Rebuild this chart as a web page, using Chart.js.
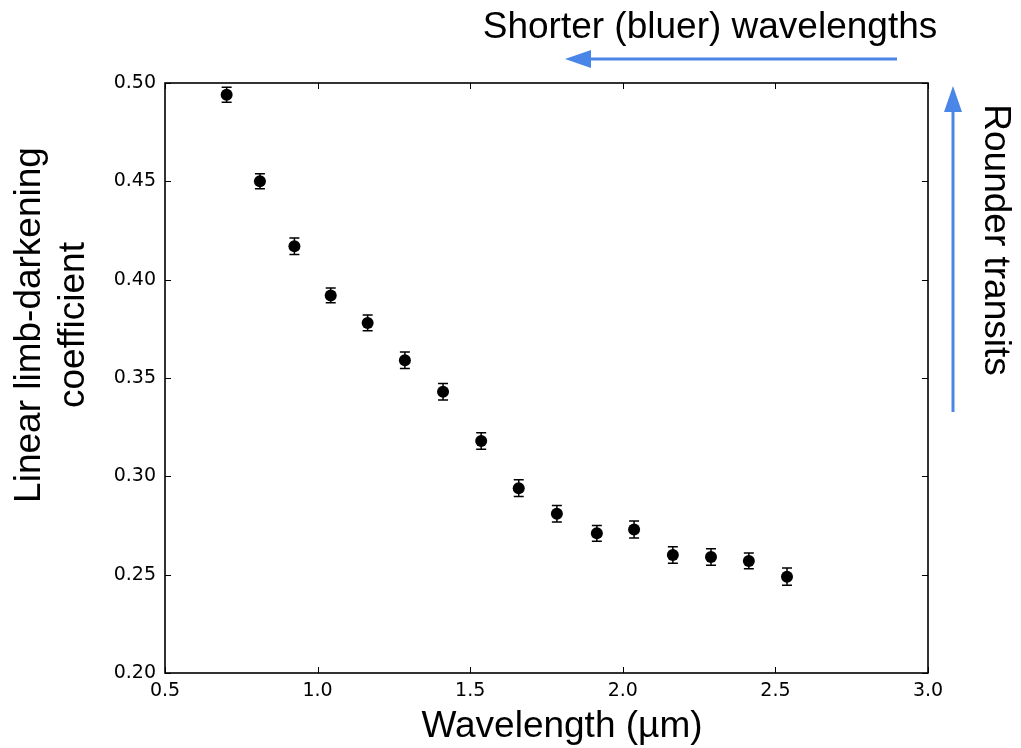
<!DOCTYPE html>
<html lang="en">
<head>
  <meta charset="UTF-8">
  <title>Limb darkening vs wavelength</title>
  <script src="https://cdn.jsdelivr.net/npm/chart.js"></script>
  <style>
    html, body { margin: 0; padding: 0; background: #fff; }
    #wrap { position: relative; width: 1021px; height: 748px; }
  </style>
</head>
<body>
  <div id="wrap">
    <canvas id="ldChart"></canvas>
  </div>

  <script>
    // data
    const wavelengths = [0.702, 0.811, 0.924, 1.043, 1.164, 1.286, 1.411, 1.536,
                         1.659, 1.784, 1.915, 2.037, 2.164, 2.289, 2.413, 2.538];
    const ldCoeff = [0.494, 0.450, 0.417, 0.392, 0.378, 0.359, 0.343, 0.318,
                     0.294, 0.281, 0.271, 0.273, 0.260, 0.259, 0.257, 0.249];
    const ldErr = [0.0038, 0.0038, 0.0042, 0.0038, 0.0040, 0.0042, 0.0042, 0.0042,
                   0.0042, 0.0042, 0.0040, 0.0043, 0.0042, 0.0042, 0.0040, 0.0044];

    const xTicks = [0.5, 1.0, 1.5, 2.0, 2.5, 3.0];
    const xTickLabels = ['0.5', '1.0', '1.5', '2.0', '2.5', '3.0'];
    const yTicks = [0.20, 0.25, 0.30, 0.35, 0.40, 0.45, 0.50];
    const yTickLabels = ['0.20', '0.25', '0.30', '0.35', '0.40', '0.45', '0.50'];

    const xTitle = 'Wavelength (\u00b5m)';
    const yTitle = ['Linear limb-darkening', 'coefficient'];
    const topNote = 'Shorter (bluer) wavelengths';
    const sideNote = 'Rounder transits';

    const arrowBlue = '#4a86e8';
    const bigFont = '37px "Liberation Sans", Arial, sans-serif';

    // vertical error bars, drawn under the markers
    const errorBars = {
      id: 'errorBars',
      beforeDatasetsDraw(chart) {
        const ctx = chart.ctx;
        const xs = chart.scales.x, ys = chart.scales.y;
        ctx.save();
        ctx.strokeStyle = '#000';
        ctx.lineWidth = 1.5;
        wavelengths.forEach((w, i) => {
          const px = xs.getPixelForValue(w);
          const top = ys.getPixelForValue(ldCoeff[i] + ldErr[i]);
          const bot = ys.getPixelForValue(ldCoeff[i] - ldErr[i]);
          ctx.beginPath();
          ctx.moveTo(px, top); ctx.lineTo(px, bot);
          ctx.moveTo(px - 5, top); ctx.lineTo(px + 5, top);
          ctx.moveTo(px - 5, bot); ctx.lineTo(px + 5, bot);
          ctx.stroke();
        });
        ctx.restore();
      }
    };

    // box around the axes with inward ticks on all four sides
    const frame = {
      id: 'frame',
      afterDraw(chart) {
        const ctx = chart.ctx;
        const a = chart.chartArea;
        const xs = chart.scales.x, ys = chart.scales.y;
        ctx.save();
        ctx.strokeStyle = '#000';
        ctx.lineWidth = 1;
        ctx.beginPath();
        xTicks.forEach(v => {
          const px = Math.round(xs.getPixelForValue(v)) + 0.5;
          ctx.moveTo(px, a.bottom); ctx.lineTo(px, a.bottom - 6);
          ctx.moveTo(px, a.top); ctx.lineTo(px, a.top + 6);
        });
        yTicks.forEach(v => {
          const py = Math.round(ys.getPixelForValue(v)) + 0.5;
          ctx.moveTo(a.left, py); ctx.lineTo(a.left + 6, py);
          ctx.moveTo(a.right, py); ctx.lineTo(a.right - 6, py);
        });
        ctx.stroke();
        ctx.lineWidth = 1.6;
        ctx.strokeRect(a.left, a.top, a.right - a.left, a.bottom - a.top);
        ctx.restore();
      }
    };

    function arrowHead(ctx, tipX, tipY, dx, dy) {
      // dx,dy: unit direction the arrow points to
      const len = 26, half = 9;
      const bx = tipX - dx * len, by = tipY - dy * len;
      ctx.beginPath();
      ctx.moveTo(tipX, tipY);
      ctx.lineTo(bx - dy * half, by + dx * half);
      ctx.lineTo(bx + dy * half, by - dx * half);
      ctx.closePath();
      ctx.fill();
    }

    // axis titles, notes and the two blue arrows
    const notes = {
      id: 'notes',
      afterDraw(chart) {
        const ctx = chart.ctx;
        ctx.save();
        ctx.fillStyle = '#000';
        ctx.font = bigFont;
        ctx.textBaseline = 'alphabetic';
        ctx.textAlign = 'center';

        ctx.fillText(xTitle, 562, 737);
        ctx.fillText(topNote, 710, 38);

        ctx.save();
        ctx.translate(40, 325);
        ctx.rotate(-Math.PI / 2);
        ctx.fillText(yTitle[0], 0, 0);
        ctx.fillText(yTitle[1], 0, 44);
        ctx.restore();

        ctx.save();
        ctx.translate(985, 240);
        ctx.rotate(Math.PI / 2);
        ctx.fillText(sideNote, 0, 0);
        ctx.restore();

        ctx.strokeStyle = arrowBlue;
        ctx.fillStyle = arrowBlue;
        ctx.lineWidth = 3;
        ctx.beginPath();
        ctx.moveTo(897, 59); ctx.lineTo(585, 59);
        ctx.moveTo(953, 412); ctx.lineTo(953, 105);
        ctx.stroke();
        arrowHead(ctx, 565, 59, -1, 0);
        arrowHead(ctx, 953, 86, 0, -1);
        ctx.restore();
      }
    };

    const tickFont = { family: '"DejaVu Sans", sans-serif', size: 19 };

    new Chart(document.getElementById('ldChart'), {
      type: 'scatter',
      data: {
        datasets: [{
          data: wavelengths.map((w, i) => ({ x: w, y: ldCoeff[i] })),
          pointRadius: 6,
          pointHoverRadius: 6,
          backgroundColor: '#000',
          borderWidth: 0
        }]
      },
      options: {
        responsive: true,
        maintainAspectRatio: false,
        animation: false,
        layout: { padding: { left: 0, top: 83, right: 93, bottom: 0 } },
        plugins: {
          legend: { display: false },
          tooltip: { enabled: false }
        },
        scales: {
          x: {
            type: 'linear',
            min: 0.5,
            max: 3.0,
            afterBuildTicks: s => { s.ticks = xTicks.map(v => ({ value: v })); },
            afterFit: s => { s.height = 75; },
            grid: { display: false, drawTicks: false },
            border: { display: false },
            ticks: {
              color: '#000',
              font: tickFont,
              padding: 7,
              maxRotation: 0,
              callback: (v, i) => xTickLabels[i]
            }
          },
          y: {
            type: 'linear',
            min: 0.2,
            max: 0.5,
            afterBuildTicks: s => { s.ticks = yTicks.map(v => ({ value: v })); },
            afterFit: s => { s.width = 165; },
            grid: { display: false, drawTicks: false },
            border: { display: false },
            ticks: {
              color: '#000',
              font: tickFont,
              padding: 9,
              callback: (v, i) => yTickLabels[i]
            }
          }
        }
      },
      plugins: [errorBars, frame, notes]
    });
  </script>
</body>
</html>
